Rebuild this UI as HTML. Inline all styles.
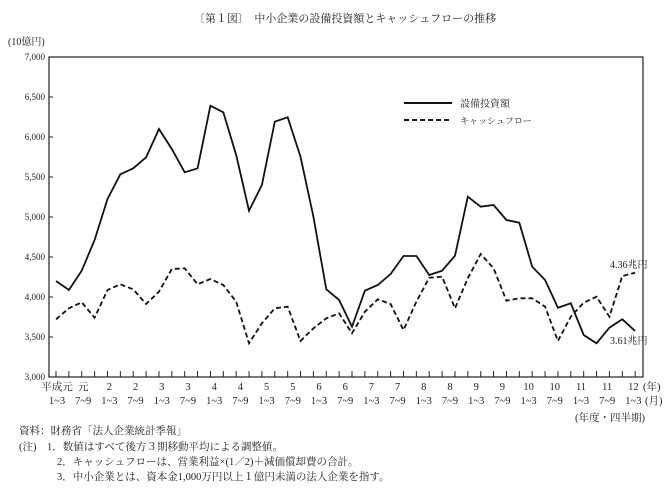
<!DOCTYPE html>
<html><head><meta charset="utf-8"><style>
body{margin:0;background:#fff;}
svg{display:block;font-family:"Liberation Serif","Noto Serif CJK SC","Noto Sans CJK JP",serif;}
</style></head><body>
<svg id="s" width="666" height="494" xmlns="http://www.w3.org/2000/svg">
<rect width="666" height="494" fill="#fff"/>
<text x="345" y="22" font-size="11" text-anchor="middle" fill="#222">〔第１図〕　中小企業の設備投資額とキャッシュフローの推移</text>
<text x="8" y="45" font-size="10" fill="#222">(10億円)</text>
<rect x="49" y="57" width="594" height="320" fill="none" stroke="#222" stroke-width="1.2"/>
<g id="g"></g>
<line x1="404" y1="103" x2="452" y2="103" stroke="#111" stroke-width="2"/>
<text x="460" y="107" font-size="10" fill="#222">設備投資額</text>
<line x1="404" y1="120" x2="452" y2="120" stroke="#111" stroke-width="2" stroke-dasharray="5,3"/>
<text x="460" y="124" font-size="9" fill="#222">キャッシュフロー</text>
<text x="610" y="268" font-size="10" fill="#222">4.36兆円</text>
<text x="610" y="344" font-size="10" fill="#222">3.61兆円</text>
<text x="645" y="421" font-size="10.5" text-anchor="end" fill="#222">(年度・四半期)</text>
<text x="19" y="434" font-size="10.5" fill="#222">資料：財務省「法人企業統計季報」</text>
<text x="19" y="450" font-size="10.5" fill="#222">(注)　1．数値はすべて後方３期移動平均による調整値。</text>
<text x="57" y="465" font-size="10.5" fill="#222">2．キャッシュフローは、営業利益×(1／2)＋減価償却費の合計。</text>
<text x="57" y="480" font-size="10.5" fill="#222">3．中小企業とは、資本金1,000万円以上１億円未満の法人企業を指す。</text>
</svg>
<script>
var NS="http://www.w3.org/2000/svg",g=document.getElementById('g');
function el(t,a,txt){var e=document.createElementNS(NS,t);for(var k in a)e.setAttribute(k,a[k]);if(txt)e.textContent=txt;g.appendChild(e);return e;}
var s1=[693,720,662,570,447,373,355,322,237,297,367,355,167,187,315,482,405,215,202,320,500,718,750,830,722,705,672,618,618,675,662,617,440,470,465,510,518,650,690,773,760,855,880,833,808,843];
var s2=[808,775,757,803,720,703,718,762,725,657,655,703,687,705,755,880,820,775,770,873,835,805,790,850,785,748,762,840,755,683,680,775,685,612,655,752,745,745,770,873,800,758,740,800,678,668];
function pts(a){return a.map(function(v,i){return (56+i*12.87).toFixed(1)+","+(50+v/3).toFixed(1);}).join(" ");}
el('polyline',{points:pts(s1),fill:'none',stroke:'#111','stroke-width':1.8});
el('polyline',{points:pts(s2),fill:'none',stroke:'#111','stroke-width':1.8,'stroke-dasharray':'5,3'});
var lab=["7,000","6,500","6,000","5,500","5,000","4,500","4,000","3,500","3,000"];
for(var i=0;i<9;i++){var y=57+i*40;el('text',{x:45,y:y+3,'font-size':9,'text-anchor':'end',fill:'#222'},lab[i]);if(i>0&&i<8)el('line',{x1:49,y1:y,x2:53,y2:y,stroke:'#222'});}
for(var i=0;i<46;i++){var x=56+i*12.87;el('line',{x1:x,y1:377,x2:x,y2:371,stroke:'#222'});}
var yr=["平成元","元","2","2","3","3","4","4","5","5","6","6","7","7","8","8","9","9","10","10","11","11","12"];
for(var j=0;j<23;j++){var x=57+j*26.2;el('text',{x:x,y:390,'font-size':10.5,'text-anchor':'middle',fill:'#222'},yr[j]);el('text',{x:x,y:404,'font-size':10.5,'text-anchor':'middle',fill:'#222'},j%2?"7~9":"1~3");}
el('text',{x:643,y:390,'font-size':10.5,fill:'#222'},"(年)");el('text',{x:645,y:404,'font-size':10.5,fill:'#222'},"(月)");
</script>
</body></html>
